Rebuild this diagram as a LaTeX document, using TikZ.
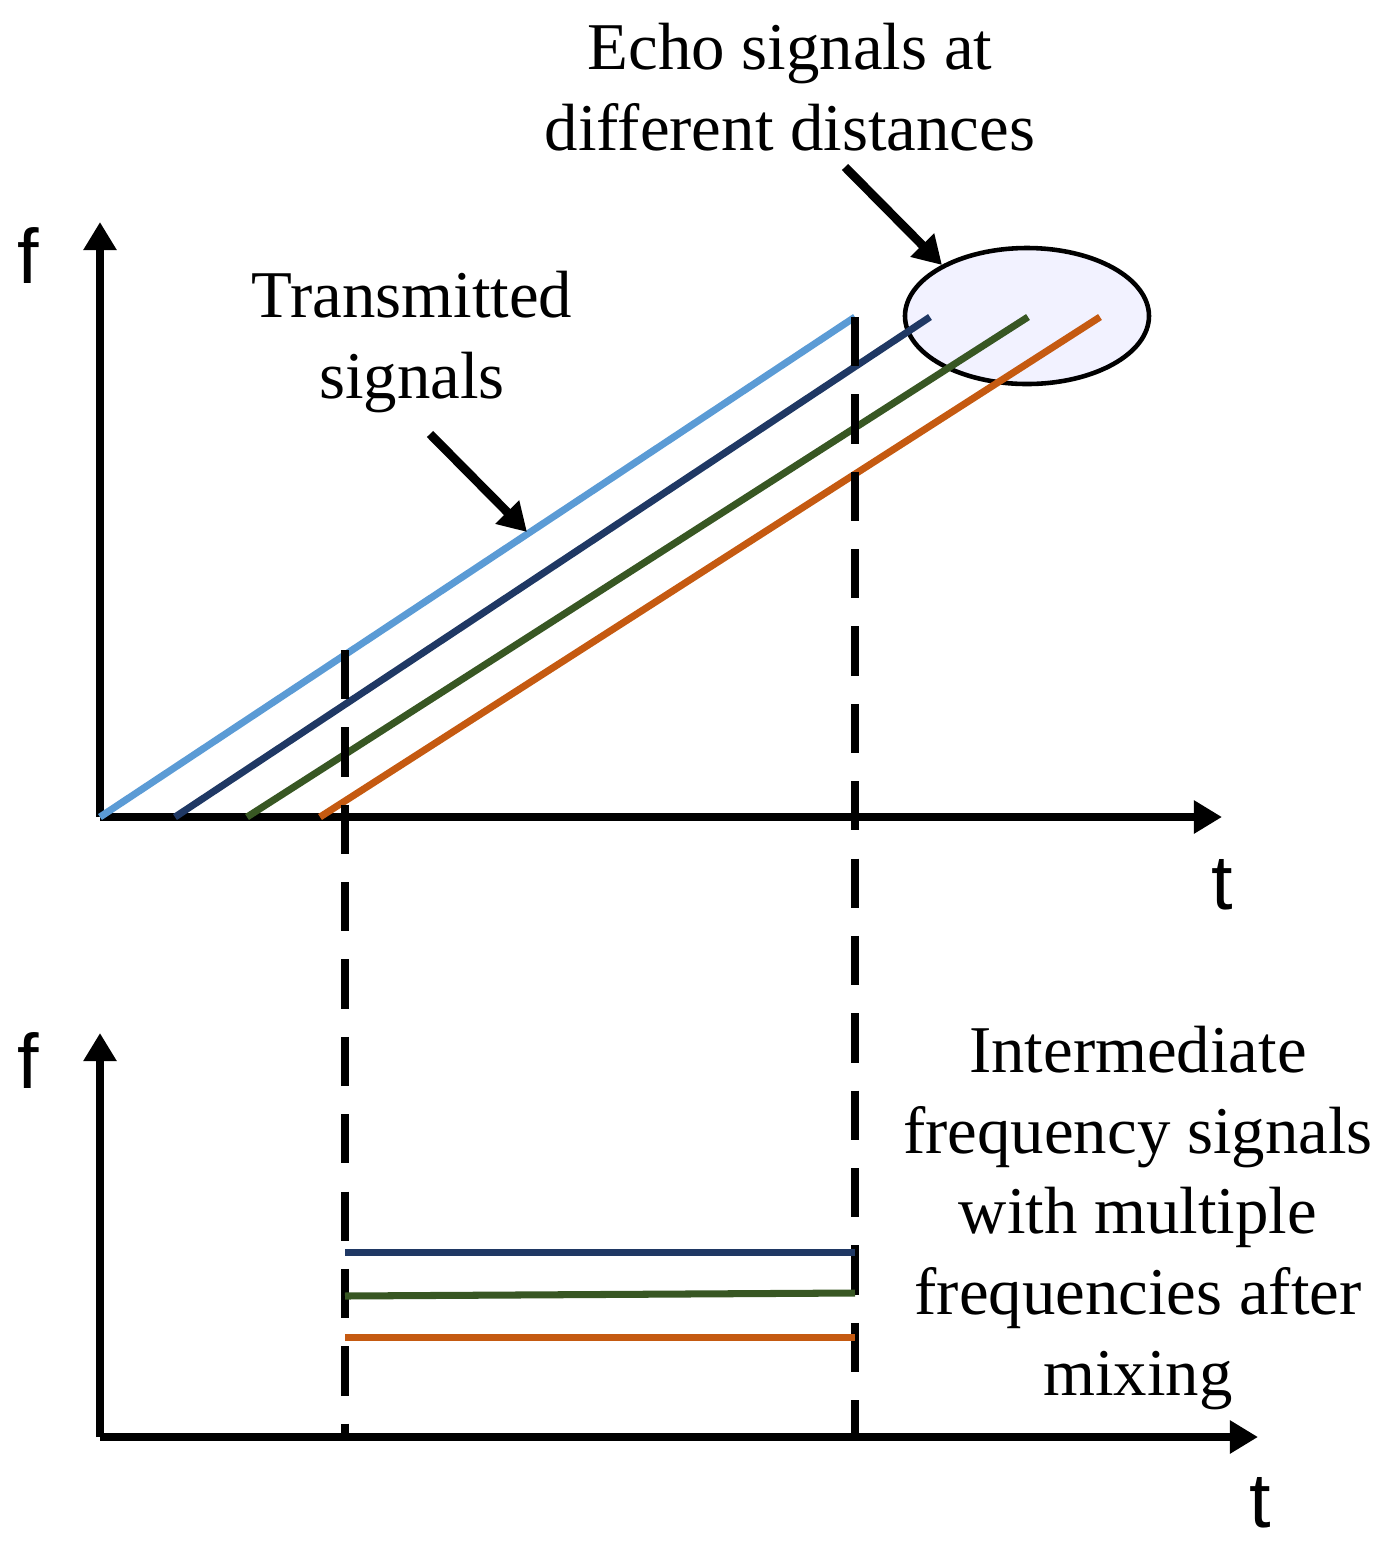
\documentclass[tikz,border=0pt]{standalone}
\usepackage{fontspec}
\setmainfont{Liberation Serif}
\newfontfamily\axfont{Liberation Sans}
\definecolor{lblue}{RGB}{91,155,213}
\definecolor{navy}{RGB}{31,56,100}
\definecolor{dgreen}{RGB}{56,87,35}
\definecolor{orng}{RGB}{197,90,17}
\tikzset{axis/.style={line width=2.5pt,-{Triangle[width=9pt,length=8pt]}},
  sig/.style={line width=2pt},
  lbl/.style={align=center,font=\fontsize{19}{23}\selectfont},
  axl/.style={font=\axfont\fontsize{22}{24}\selectfont}}
\usetikzlibrary{arrows.meta}
\begin{document}
\begin{tikzpicture}[x=0.01cm,y=-0.01cm]
\useasboundingbox (0,0) rectangle (1389,1544);
% upper plot
\coordinate (o1) at (100,817);
\draw[axis] (o1) -- (1222,817);
\draw[axis] (o1) -- (100,222);
\node[axl] (f1) at (28,255) {f};
\node[axl] (t1) at (1222,885) {t};
\fill[blue!5] (1027,316) ellipse [x radius=122, y radius=68];
\draw[line width=1.3pt] (1027,316) ellipse [x radius=122, y radius=68];
\draw[sig,lblue] (100,817) -- (855,317);
\draw[sig,navy] (175,817) -- (930,317);
\draw[sig,dgreen] (247,817) -- (1028,317);
\draw[sig,orng] (320,817) -- (1100,317);
% dashed guides
\draw[line width=2pt,dash pattern=on 14pt off 8pt] (345,650) -- (345,1437);
\draw[line width=2pt,dash pattern=on 14pt off 8pt] (855,317) -- (855,1437);
% lower plot
\coordinate (o2) at (100,1437);
\draw[axis] (o2) -- (1258,1437);
\draw[axis] (o2) -- (100,1033);
\node[axl] (f2) at (28,1060) {f};
\node[axl] (t2) at (1260,1503) {t};
\draw[sig,navy] (345,1252) -- (855,1252);
\draw[sig,dgreen] (345,1296) -- (855,1293);
\draw[sig,orng] (345,1337) -- (855,1337);
% labels
\node[lbl] (tx) at (412,342) {Transmitted\\signals};
\node[lbl] (echo) at (790,87) {Echo signals at\\different distances};
\node[lbl] (ifs) at (1138,1218) {Intermediate\\frequency signals\\with multiple\\frequencies after\\mixing};
\coordinate (txa) at (527,532);
\coordinate (ea) at (942,265);
\draw[line width=2.5pt,-{Triangle[width=9pt,length=8pt]}] (430,434) -- (txa);
\draw[line width=2.5pt,-{Triangle[width=9pt,length=8pt]}] (845,167) -- (ea);
\end{tikzpicture}
\end{document}
